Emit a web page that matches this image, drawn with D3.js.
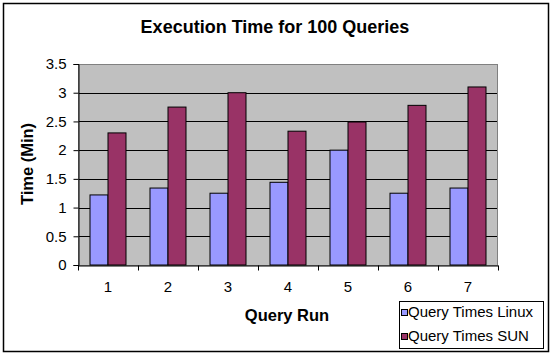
<!DOCTYPE html>
<html><head><meta charset="utf-8">
<script src="https://cdn.jsdelivr.net/npm/d3@7"></script>
<style>body{margin:0;background:#fff}svg{display:block;font-family:"Liberation Sans",Arial,sans-serif}</style>
</head><body>
<svg id="chart" width="553" height="356"></svg>
<script>
const categories = ["1","2","3","4","5","6","7"];
const linuxTimes = [1.22, 1.34, 1.25, 1.44, 2.0, 1.25, 1.34];
const sunTimes = [2.30, 2.75, 3.0, 2.33, 2.49, 2.78, 3.10];
const seriesNames = ["Query Times Linux", "Query Times SUN"];
const yTicks = [0, 0.5, 1, 1.5, 2, 2.5, 3, 3.5];
const colors = ["#9999FF", "#993366"];

const svg = d3.select("#chart");
const m = {l: 78, r: 498, t: 64, b: 265};

svg.append("rect").attr("x", 3.5).attr("y", 3.5).attr("width", 545).attr("height", 348)
  .attr("fill", "#fff").attr("stroke", "#000").attr("stroke-width", 1.5);

const x = d3.scaleBand().domain(categories).range([m.l, m.r]).paddingInner(0.4).paddingOuter(0.2);
const x0 = d3.scaleBand().domain(categories).range([m.l, m.r]);
const xs = d3.scaleBand().domain([0, 1]).range([0, x.bandwidth()]);
const y = d3.scaleLinear().domain([0, 3.5]).range([m.b, m.t]);

svg.append("rect").attr("x", m.l).attr("y", m.t).attr("width", m.r - m.l).attr("height", m.b - m.t)
  .attr("fill", "#C0C0C0");

// gridlines
svg.append("g").selectAll("line").data(yTicks.filter(d => d > 0 && d < 3.5)).join("line")
  .attr("x1", m.l).attr("x2", m.r).attr("y1", d => Math.round(y(d)) + 0.5).attr("y2", d => Math.round(y(d)) + 0.5)
  .attr("stroke", "#000").attr("stroke-width", 1);

// plot border (gray)
svg.append("rect").attr("x", m.l + 0.5).attr("y", m.t + 0.5).attr("width", m.r - m.l - 1).attr("height", m.b - m.t)
  .attr("fill", "none").attr("stroke", "#808080").attr("stroke-width", 1);

// bars
const data = categories.map((c, i) => ({c, v: [linuxTimes[i], sunTimes[i]]}));
const g = svg.append("g");
g.selectAll("g").data(data).join("g")
  .attr("transform", d => `translate(${x(d.c)},0)`)
  .selectAll("rect").data(d => d.v.map((v, k) => ({v, k}))).join("rect")
  .attr("x", d => xs(d.k)).attr("width", xs.bandwidth())
  .attr("y", d => y(d.v)).attr("height", d => y(0) - y(d.v))
  .attr("fill", d => colors[d.k]).attr("stroke", "#000").attr("stroke-width", 1);

// y axis
const yAxis = svg.append("g").attr("transform", `translate(${m.l + 0.5},0)`)
  .call(d3.axisLeft(y).tickValues(yTicks).tickSize(5).tickPadding(7).tickFormat(d3.format("")));
yAxis.select(".domain").attr("stroke", "#000");
yAxis.selectAll("text").attr("font-size", 15).attr("fill", "#000").attr("font-family", "Liberation Sans, Arial");

// x axis
const xAxis = svg.append("g").attr("transform", `translate(0,${m.b + 0.5})`)
  .call(d3.axisBottom(x0).tickSize(0).tickPadding(16));
xAxis.select(".domain").attr("stroke", "#000");
xAxis.selectAll("text").attr("font-size", 15).attr("fill", "#000").attr("font-family", "Liberation Sans, Arial");
xAxis.append("g").selectAll("line").data(d3.range(categories.length + 1)).join("line")
  .attr("x1", i => Math.round(m.l + i * x0.step()) + 0.5).attr("x2", i => Math.round(m.l + i * x0.step()) + 0.5)
  .attr("y1", 0).attr("y2", 5).attr("stroke", "#000");

// titles
svg.append("text").attr("x", 275).attr("y", 33).attr("text-anchor", "middle")
  .attr("font-size", 18).attr("font-weight", "bold").text("Execution Time for 100 Queries");
svg.append("text").attr("x", 287).attr("y", 321).attr("text-anchor", "middle")
  .attr("font-size", 16.5).attr("font-weight", "bold").text("Query Run");
svg.append("text").attr("transform", "translate(33,164) rotate(-90)").attr("text-anchor", "middle")
  .attr("font-size", 16.5).attr("font-weight", "bold").text("Time (Min)");

// legend
const lg = svg.append("g");
lg.append("rect").attr("x", 399.5).attr("y", 301.5).attr("width", 144).attr("height", 47)
  .attr("fill", "#fff").attr("stroke", "#000").attr("stroke-width", 1);
seriesNames.forEach((n, k) => {
  lg.append("rect").attr("x", 401.5).attr("y", 309.5 + k * 24).attr("width", 6).attr("height", 6)
    .attr("fill", colors[k]).attr("stroke", "#000");
  lg.append("text").attr("x", 408).attr("y", 317 + k * 24).attr("font-size", 15).text(n);
});
</script>
</body></html>
